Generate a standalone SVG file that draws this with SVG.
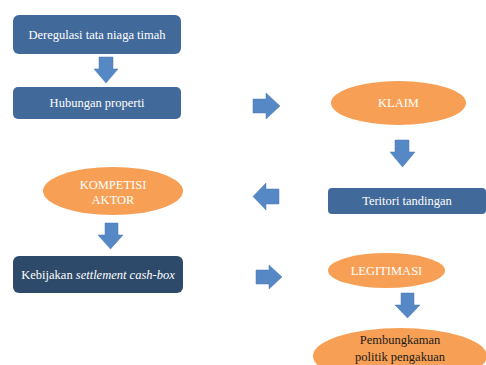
<svg xmlns="http://www.w3.org/2000/svg" width="486" height="365" viewBox="0 0 486 365">
<defs>
<style>
.box{fill:#41699A;}
.dark{fill:#2E4A6B;}
.ell{fill:#F79F55;}
.arr{fill:#5588C4;stroke:#4A78B0;stroke-width:0.5;}
text{font-family:'Liberation Serif','DejaVu Serif',serif;font-size:12.5px;text-anchor:middle;}
.w{fill:#FFFFFF;}
.b{fill:#1A1A1A;}
</style>
</defs>
<rect width="486" height="365" fill="#FFFFFF"/>
<g id="connectors">
<polygon class="arr" points="99,57 113,57 113,69 118,69 106,83 94,69 99,69"/>
<polygon class="arr" points="253,99 266,99 266,93 280,106 266,119 266,113 253,113"/>
<polygon class="arr" points="395,140 409,140 409,152 415,152 402.5,167 390,152 395,152"/>
<polygon class="arr" points="279,189 266,189 266,183 253,196.5 266,210 266,204 279,204"/>
<polygon class="arr" points="105,223 118,223 118,235 123,235 110.5,249 98,235 105,235"/>
<polygon class="arr" points="256,270 269,270 269,265 282,277 269,289 269,284 256,284"/>
<polygon class="arr" points="401,293 414,293 414,305 420,305 407.5,318 395,305 401,305"/>
</g>
<g id="n1"><rect class="box" x="13" y="15" width="168" height="39" rx="6"/><text class="w" x="97" y="39" font-family="Liberation Serif, serif">Deregulasi tata niaga timah</text></g>
<g id="n2"><rect class="box" x="13" y="87" width="168" height="32" rx="5"/><text class="w" x="97" y="107" font-family="Liberation Serif, serif">Hubungan properti</text></g>
<g id="n3"><ellipse class="ell" cx="398.5" cy="103" rx="67.5" ry="22"/><text class="w" x="398.5" y="107">KLAIM</text></g>
<g id="n4"><rect class="box" x="328" y="188" width="158" height="26" rx="4"/><text class="w" x="407" y="205">Teritori  tandingan</text></g>
<g id="n5"><ellipse class="ell" cx="113" cy="191" rx="70" ry="24"/><text class="w" x="113" y="189">KOMPETISI</text><text class="w" x="113" y="204">AKTOR</text></g>
<g id="n6"><rect class="dark" x="13" y="256" width="170" height="37" rx="6"/><text class="w" x="98" y="279">Kebijakan <tspan font-style="italic">settlement cash-box</tspan></text></g>
<g id="n7"><ellipse class="ell" cx="386.5" cy="270.5" rx="58.5" ry="17.5"/><text class="w" x="386.5" y="275">LEGITIMASI</text></g>
<g id="n8"><ellipse class="ell" cx="400" cy="356" rx="87" ry="28"/><text class="b" x="400" y="344">Pembungkaman</text><text class="b" x="400" y="361">politik  pengakuan</text></g>
</svg>
